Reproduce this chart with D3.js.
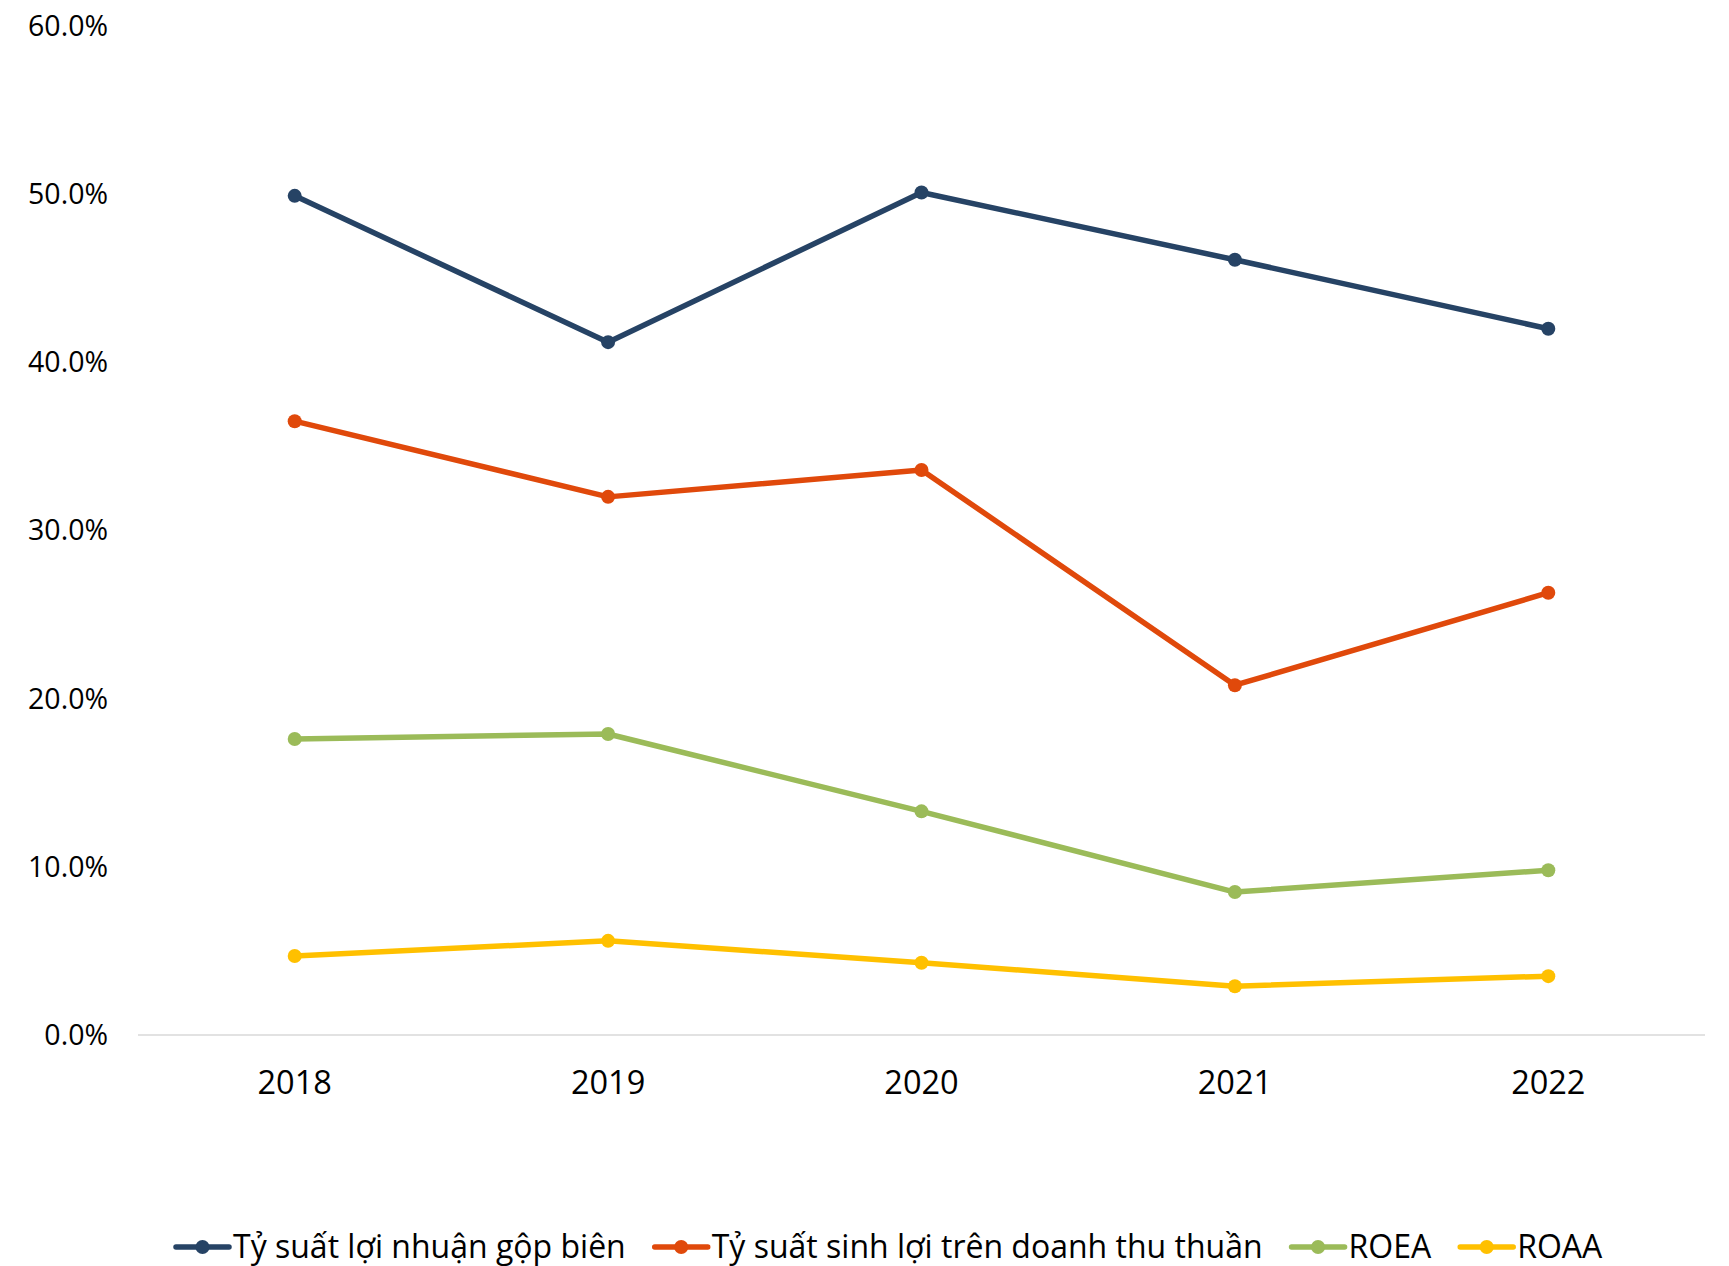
<!DOCTYPE html>
<html>
<head>
<meta charset="utf-8">
<script src="https://cdnjs.cloudflare.com/ajax/libs/d3/7.8.5/d3.min.js"></script>
<style>
  body { margin: 0; background: #fff; }
  svg { font-family: "Open Sans", "Noto Sans", sans-serif; }
</style>
</head>
<body>
<div id="chart"></div>
<script>
// years on the x axis
var years = ["2018", "2019", "2020", "2021", "2022"];

// series values (percent)
var grossMargin = [49.9, 41.2, 50.1, 46.1, 42.0];
var netMargin = [36.5, 32.0, 33.6, 20.8, 26.3];
var roea = [17.6, 17.9, 13.3, 8.5, 9.8];
var roaa = [4.7, 5.6, 4.3, 2.9, 3.5];

var seriesNames = ["Tỷ suất lợi nhuận gộp biên", "Tỷ suất sinh lợi trên doanh thu thuần", "ROEA", "ROAA"];
var yTicks = [0, 10, 20, 30, 40, 50, 60];

var colors = ["#264365", "#E0490B", "#9BBB59", "#FFC000"];

var width = 1729, height = 1266;
var margin = {top: 26, right: 24, bottom: 231, left: 138};

var svg = d3.select("#chart").append("svg")
    .attr("width", width)
    .attr("height", height);

var x = d3.scaleBand()
    .domain(years)
    .range([margin.left, width - margin.right]);

var y = d3.scaleLinear()
    .domain([0, 60])
    .range([height - margin.bottom, margin.top]);

var allSeries = [grossMargin, netMargin, roea, roaa];

// y labels, no grid lines
svg.append("g").selectAll("text")
    .data(yTicks)
    .enter().append("text")
    .attr("x", 108)
    .attr("y", function (d) { return y(d); })
    .attr("dy", "0.35em")
    .attr("text-anchor", "end")
    .attr("font-size", 28.5)
    .attr("fill", "#000")
    .text(function (d) { return d.toFixed(1) + "%"; });

// baseline
svg.append("line")
    .attr("x1", margin.left)
    .attr("x2", width - margin.right)
    .attr("y1", y(0))
    .attr("y2", y(0))
    .attr("stroke", "#D9D9D9")
    .attr("stroke-width", 1.5);

// year labels
svg.append("g").selectAll("text")
    .data(years)
    .enter().append("text")
    .attr("x", function (d) { return x(d) + x.bandwidth() / 2; })
    .attr("y", y(0) + 48)
    .attr("dy", "0.35em")
    .attr("text-anchor", "middle")
    .attr("font-size", 32.5)
    .attr("fill", "#000")
    .text(function (d) { return d; });

var line = d3.line()
    .x(function (d, i) { return x(years[i]) + x.bandwidth() / 2; })
    .y(function (d) { return y(d); });

allSeries.forEach(function (vals, s) {
    var g = svg.append("g");
    g.append("path")
        .datum(vals)
        .attr("d", line)
        .attr("fill", "none")
        .attr("stroke", colors[s])
        .attr("stroke-width", 5.5)
        .attr("stroke-linejoin", "round");
    g.selectAll("circle")
        .data(vals)
        .enter().append("circle")
        .attr("cx", function (d, i) { return x(years[i]) + x.bandwidth() / 2; })
        .attr("cy", function (d) { return y(d); })
        .attr("r", 7)
        .attr("fill", colors[s]);
});

// legend
var legend = svg.append("g");
var lx = 176, ly = 1247;
seriesNames.forEach(function (name, s) {
    var item = legend.append("g");
    item.append("line")
        .attr("x1", lx).attr("x2", lx + 53)
        .attr("y1", ly).attr("y2", ly)
        .attr("stroke", colors[s])
        .attr("stroke-width", 5.5)
        .attr("stroke-linecap", "round");
    item.append("circle")
        .attr("cx", lx + 26.5).attr("cy", ly)
        .attr("r", 7)
        .attr("fill", colors[s]);
    var t = item.append("text")
        .attr("x", lx + 57)
        .attr("y", ly)
        .attr("dy", "0.35em")
        .attr("font-size", 32)
        .attr("fill", "#000")
        .text(name);
    lx += 57 + t.node().getComputedTextLength() + 29;
});
</script>
</body>
</html>
